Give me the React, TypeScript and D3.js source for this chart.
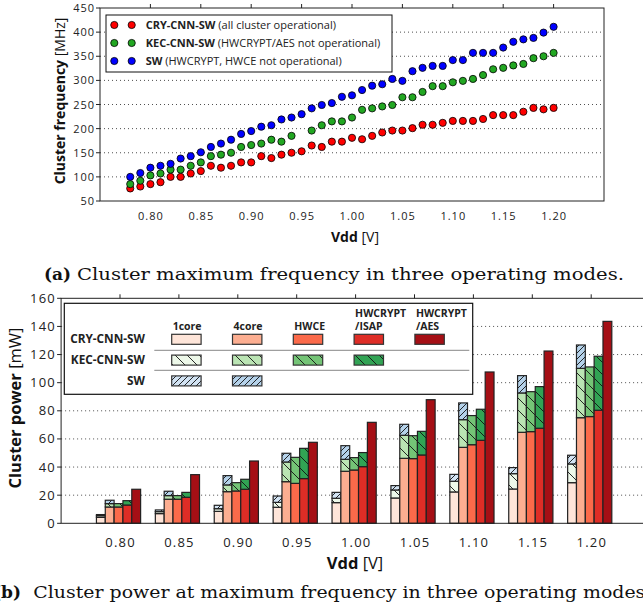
import React from 'react';
import * as d3 from 'd3';

// (a) cluster max frequency [MHz] vs Vdd
const vdd = [
	0.78, 0.79, 0.80, 0.81, 0.82, 0.83, 0.84, 0.85, 0.86, 0.87, 0.88, 0.89, 0.90, 0.91, 0.92,
	0.93, 0.94, 0.95, 0.96, 0.97, 0.98, 0.99, 1.00, 1.01, 1.02, 1.03, 1.04, 1.05, 1.06, 1.07,
	1.08, 1.09, 1.10, 1.11, 1.12, 1.13, 1.14, 1.15, 1.16, 1.17, 1.18, 1.19, 1.20
];
const freqCry = [
	76, 80, 85, 89, 100, 100, 107, 112, 123, 119, 123, 130, 130, 143, 139, 146, 150, 153, 165,
	162, 173, 173, 181, 178, 185, 192, 196, 196, 201, 208, 208, 212, 216, 216, 216, 220, 228,
	228, 228, 235, 243, 240, 243
];
const freqKec = [
	85, 92, 103, 107, 115, 115, 123, 130, 143, 146, 150, 162, 166, 169, 177, 173, 185, null, 196,
	207, 215, 215, 223, 239, 242, 246, 249, 265, 265, 276, 288, 288, 296, 299, 303, 311, 323,
	326, 331, 334, 346, 350, 357
];
const freqSw = [
	100, 108, 119, 123, 127, 138, 143, 151, 162, 169, 177, 189, 195, 204, 207, 219, 223, 230, 242,
	249, 253, 266, 269, 280, 289, 292, 303, 299, 319, 326, 330, 330, 342, 342, 357, 357, 357,
	368, 380, 385, 388, 399, 411
];
const freqSeries = [
	{ name: 'CRY-CNN-SW', note: ' (all cluster operational)', color: '#ff0000', values: freqCry },
	{ name: 'KEC-CNN-SW', note: ' (HWCRYPT/AES not operational)', color: '#22a722', values: freqKec },
	{ name: 'SW', note: ' (HWCRYPT, HWCE not operational)', color: '#0000ff', values: freqSw }
];
const freqTicksX = [0.80, 0.85, 0.90, 0.95, 1.00, 1.05, 1.10, 1.15, 1.20];
const freqTicksY = [50, 100, 150, 200, 250, 300, 350, 400, 450];

// (b) cluster power [mW], stacked: top of each level
const powerVdd = [0.80, 0.85, 0.90, 0.95, 1.00, 1.05, 1.10, 1.15, 1.20];
const cry1core = [4.2, 6.9, 8.5, 11.4, 14.7, 18.0, 22.3, 24.4, 28.9];
const kec1core = [5.4, 8.3, 10.4, 14.9, 17.8, 23.7, 29.9, 35.3, 42.2];
const sw1core = [6.2, 9.5, 12.8, 19.4, 22.0, 26.8, 34.8, 39.6, 48.4];
const cry4core = [11.6, 17.1, 22.5, 29.6, 37.0, 46.2, 54.0, 64.7, 75.1];
const kec4core = [14.0, 19.7, 27.3, 43.6, 45.5, 62.6, 73.7, 92.7, 110.2];
const sw4core = [16.4, 22.8, 33.9, 49.8, 55.2, 70.4, 85.6, 105.0, 126.8];
const cryHwce = [11.6, 17.1, 23.0, 28.4, 37.9, 46.0, 55.9, 65.2, 75.9];
const kecHwce = [14.0, 19.7, 28.9, 46.9, 46.7, 62.3, 76.6, 93.6, 111.2];
const cryIsap = [13.0, 18.5, 24.2, 31.8, 40.3, 48.6, 59.0, 67.6, 80.4];
const kecIsap = [16.1, 22.0, 31.3, 53.3, 50.3, 65.4, 81.1, 97.2, 118.8];
const cryAes = [24.2, 34.6, 44.3, 57.6, 71.8, 87.9, 107.6, 122.5, 143.6];
const powerTicksY = [0, 20, 40, 60, 80, 100, 120, 140, 160];

const columns = [
	{ head: ['1core'], levels: [[cry1core, '#fee5d9'], [kec1core, 'url(#kec1)'], [sw1core, 'url(#sw1)']] },
	{ head: ['4core'], levels: [[cry4core, '#fcae91'], [kec4core, 'url(#kec4)'], [sw4core, 'url(#sw4)']] },
	{ head: ['HWCE'], levels: [[cryHwce, '#fb6a4a'], [kecHwce, 'url(#kecH)']] },
	{ head: ['HWCRYPT', '/ISAP'], levels: [[cryIsap, '#de2d26'], [kecIsap, 'url(#kecI)']] },
	{ head: ['HWCRYPT', '/AES'], levels: [[cryAes, '#a50f15']] }
];
const rowNames = ['CRY-CNN-SW', 'KEC-CNN-SW', 'SW'];

const font = '"Open Sans", sans-serif';
const serif = '"DejaVu Serif", serif';

function Hatch({ id, fill, size, dir }) {
	const s = size;
	const d = dir === 'back'
		? `M0,0L${s},${s}M${-s / 2},${s / 2}L${s / 2},${1.5 * s}M${s / 2},${-s / 2}L${1.5 * s},${s / 2}`
		: `M0,${s}L${s},0M${-s / 2},${s / 2}L${s / 2},${-s / 2}M${s / 2},${1.5 * s}L${1.5 * s},${s / 2}`;
	return (
		<pattern id={id} patternUnits="userSpaceOnUse" width={s} height={s}>
			<rect width={s} height={s} fill={fill} />
			<path d={d} stroke="#111" strokeWidth={0.9} />
		</pattern>
	);
}

function FrequencyChart() {
	const x = d3.scaleLinear().domain([0.75, 1.25]).range([100, 604]);
	const y = d3.scaleLinear().domain([50, 450]).range([201, 8]);
	const [x0, x1] = x.range();
	const [y0, y1] = y.range();
	return (
		<g>
			{freqTicksY.slice(1, -1).map(t => (
				<line key={t} x1={x0} x2={x1} y1={y(t)} y2={y(t)} stroke="#222" strokeWidth={0.8} strokeDasharray="1,3" />
			))}
			{freqSeries.map(s => (
				<g key={s.name}>
					{s.values.map((v, i) => v == null ? null : (
						<circle key={i} cx={x(vdd[i])} cy={y(v)} r={3.6} fill={s.color} stroke="#000" strokeWidth={0.8} />
					))}
				</g>
			))}
			<rect x={x0} y={y1} width={x1 - x0} height={y0 - y1} fill="none" stroke="#222" strokeWidth={1} />
			{freqTicksX.map(t => (
				<g key={t}>
					<line x1={x(t)} x2={x(t)} y1={y1} y2={y1 - 4} stroke="#222" />
					<text x={x(t) + 0.5} y={220} textAnchor="middle" fontSize={11} letterSpacing={1} fontFamily={font} fill="#222">{t.toFixed(2)}</text>
				</g>
			))}
			{freqTicksY.map(t => (
				<g key={t}>
					<line x1={x0} x2={x0 - 4} y1={y(t)} y2={y(t)} stroke="#222" />
					<text x={95} y={y(t) + 4} textAnchor="end" fontSize={11} letterSpacing={1} fontFamily={font} fill="#222">{t}</text>
				</g>
			))}
			<text x={355} y={242} textAnchor="middle" fontSize={14} fontFamily={font} fill="#111">
				<tspan fontWeight={700}>Vdd</tspan>{' [V]'}
			</text>
			<text transform="translate(65,101) rotate(-90)" textAnchor="middle" fontSize={14} fontFamily={font} fill="#111">
				<tspan fontWeight={700}>Cluster frequency</tspan>{' [MHz]'}
			</text>
			<rect x={106} y={15} width={286} height={57} fill="#fff" stroke="#111" strokeWidth={1} />
			{freqSeries.map((s, i) => {
				const cy = 25 + i * 18;
				return (
					<g key={s.name}>
						<circle cx={114.3} cy={cy} r={3.6} fill={s.color} stroke="#000" strokeWidth={0.8} />
						<circle cx={131.7} cy={cy} r={3.6} fill={s.color} stroke="#000" strokeWidth={0.8} />
						<text x={145.7} y={cy + 4} fontSize={11} fontFamily={font} fill="#222">
							<tspan fontWeight={700}>{s.name}</tspan>{s.note}
						</text>
					</g>
				);
			})}
		</g>
	);
}

function PowerChart() {
	const x = d3.scaleLinear().domain([0.75, 1.25]).range([61.1, 650.1]);
	const y = d3.scaleLinear().domain([0, 160]).range([523.3, 298.3]);
	const [x0, x1] = x.range();
	const [y0, y1] = y.range();
	const barW = 0.0075;
	return (
		<g>
			{powerTicksY.slice(1, -1).map(t => (
				<line key={t} x1={x0} x2={x1} y1={y(t)} y2={y(t)} stroke="#222" strokeWidth={0.8} strokeDasharray="1,3" />
			))}
			{powerVdd.map((v, g) => (
				<g key={v}>
					{columns.map((c, ci) => {
						const left = x(v - 0.02 + ci * barW);
						const w = x(v - 0.02 + (ci + 1) * barW) - left;
						let prev = 0;
						return c.levels.map(([vals, fill], li) => {
							const top = vals[g];
							const r = (
								<rect key={ci + '-' + li} x={left} y={y(top)} width={w} height={y(prev) - y(top)}
									fill={fill} stroke="#222" strokeWidth={1.2} />
							);
							prev = top;
							return r;
						});
					})}
				</g>
			))}
			<rect x={x0} y={y1} width={x1 - x0} height={y0 - y1} fill="none" stroke="#222" strokeWidth={1} />
			{powerVdd.map(t => (
				<g key={t}>
					<line x1={x(t)} x2={x(t)} y1={y1} y2={y1 - 4} stroke="#222" />
					<text x={x(t) + 0.6} y={547} textAnchor="middle" fontSize={13} letterSpacing={1.2} fontFamily={font} fill="#222">{t.toFixed(2)}</text>
				</g>
			))}
			{powerTicksY.map(t => (
				<g key={t}>
					<line x1={x0} x2={x0 - 4} y1={y(t)} y2={y(t)} stroke="#222" />
					<text x={56} y={y(t) + 4.5} textAnchor="end" fontSize={13} letterSpacing={1.2} fontFamily={font} fill="#222">{t}</text>
				</g>
			))}
			<text x={355} y={569} textAnchor="middle" fontSize={16.5} fontFamily={font} fill="#111">
				<tspan fontWeight={700}>Vdd</tspan>{' [V]'}
			</text>
			<text transform="translate(21,408) rotate(-90)" textAnchor="middle" fontSize={16.5} fontFamily={font} fill="#111">
				<tspan fontWeight={700}>Cluster power</tspan>{' [mW]'}
			</text>
			<rect x={64.3} y={303.3} width={408.4} height={91} fill="#fff" stroke="#111" strokeWidth={1.2} />
			<line x1={154.3} x2={469.3} y1={350.3} y2={350.3} stroke="#888" strokeWidth={1} />
			<line x1={154.3} x2={469.3} y1={370.3} y2={370.3} stroke="#888" strokeWidth={1} />
			{rowNames.map((n, i) => (
				<text key={n} x={145} y={343 + i * 20.8} textAnchor="end" fontSize={11.8} fontWeight={700} fontFamily={font} fill="#222">{n}</text>
			))}
			{columns.map((c, ci) => {
				const sx = 171.7 + ci * 60.8;
				return (
					<g key={ci}>
						{c.head.map((h, hi) => (
							<text key={h} x={sx + 1} y={329.5 - (c.head.length - 1 - hi) * 13} fontSize={10.5} fontWeight={700} fontFamily={font} fill="#222">{h}</text>
						))}
						{c.levels.map(([, fill], li) => (
							<rect key={li} x={sx} y={334.3 + li * 20.8} width={29.4} height={10} fill={fill} stroke="#333" strokeWidth={1.2} />
						))}
					</g>
				);
			})}
		</g>
	);
}

export default function App() {
	return (
		<div style={{ position: 'absolute', left: 0, top: 0, background: '#fff' }}>
			<svg width={643} height={616} style={{ display: 'block' }}>
				<defs>
					<Hatch id="kec1" fill="#edf8e9" size={12} dir="back" />
					<Hatch id="kec4" fill="#bae4b3" size={12} dir="back" />
					<Hatch id="kecH" fill="#74c476" size={12} dir="back" />
					<Hatch id="kecI" fill="#31a354" size={12} dir="back" />
					<Hatch id="sw1" fill="#d2e3f3" size={6} dir="fwd" />
					<Hatch id="sw4" fill="#b5d2ea" size={6} dir="fwd" />
				</defs>
				<rect width={643} height={616} fill="#fff" />
				<FrequencyChart />
				<PowerChart />
				<text x={44} y={280} fontSize={17} fontWeight={700} fontFamily={serif} fill="#111">(a)</text>
				<text x={77} y={280} fontSize={17} fontFamily={serif} fill="#111" textLength={547} lengthAdjust="spacingAndGlyphs">
					Cluster maximum frequency in three operating modes.
				</text>
				<text x={-7} y={598} fontSize={17} fontWeight={700} fontFamily={serif} fill="#111">(b)</text>
				<text x={33.3} y={598} fontSize={17} fontFamily={serif} fill="#111" textLength={618} lengthAdjust="spacingAndGlyphs">
					Cluster power at maximum frequency in three operating modes.
				</text>
			</svg>
		</div>
	);
}
